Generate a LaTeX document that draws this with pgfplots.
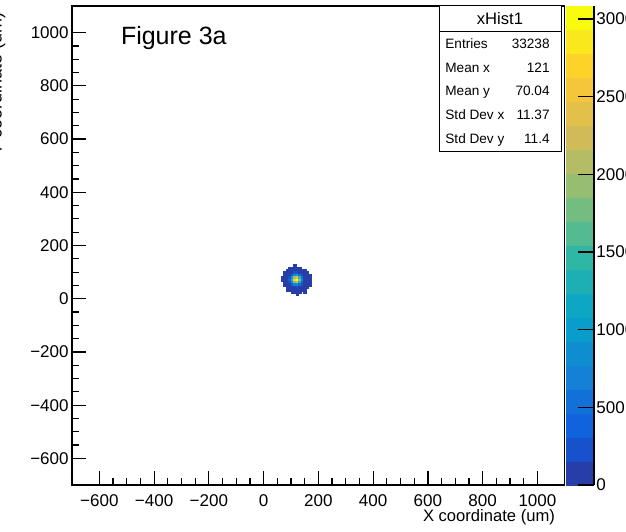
\documentclass[border=0pt]{standalone}
\usepackage{pgfplots}
\usepackage{pgfplotstable}
\pgfplotsset{compat=1.18}
\usepackage{fontspec}
\setmainfont{Liberation Sans}

% 2D histogram xHist1: bin centres (9 um bins) and non-empty bin contents
\pgfplotstableread{
x y c
114.5 123.5 1
105.5 114.5 1
114.5 114.5 1
123.5 114.5 1
132.5 114.5 1
96.5 114.5 1
87.5 105.5 1
96.5 105.5 2
105.5 105.5 10
114.5 105.5 21
123.5 105.5 24
132.5 105.5 15
141.5 105.5 5
150.5 105.5 1
78.5 96.5 1
87.5 96.5 3
96.5 96.5 21
105.5 96.5 84
114.5 96.5 180
123.5 96.5 207
132.5 96.5 127
141.5 96.5 42
150.5 96.5 7
159.5 96.5 1
78.5 87.5 1
87.5 87.5 13
96.5 87.5 96
105.5 87.5 385
114.5 87.5 827
123.5 87.5 951
132.5 87.5 585
141.5 87.5 192
150.5 87.5 34
159.5 87.5 3
168.5 87.5 1
69.5 78.5 1
78.5 78.5 2
87.5 78.5 31
96.5 78.5 235
105.5 78.5 946
114.5 78.5 2033
123.5 78.5 2338
132.5 78.5 1437
141.5 78.5 472
150.5 78.5 83
159.5 78.5 8
168.5 78.5 1
69.5 69.5 1
78.5 69.5 3
87.5 69.5 41
96.5 69.5 310
105.5 69.5 1248
114.5 69.5 2683
123.5 69.5 3084
132.5 69.5 1896
141.5 69.5 622
150.5 69.5 109
159.5 69.5 10
168.5 69.5 1
78.5 60.5 2
87.5 60.5 29
96.5 60.5 220
105.5 60.5 883
114.5 60.5 1899
123.5 60.5 2183
132.5 60.5 1342
141.5 60.5 440
150.5 60.5 77
159.5 60.5 7
168.5 60.5 1
78.5 51.5 1
87.5 51.5 11
96.5 51.5 83
105.5 51.5 335
114.5 51.5 720
123.5 51.5 827
132.5 51.5 509
141.5 51.5 167
150.5 51.5 29
159.5 51.5 3
168.5 51.5 1
87.5 42.5 2
96.5 42.5 17
105.5 42.5 68
114.5 42.5 146
123.5 42.5 168
132.5 42.5 103
141.5 42.5 34
150.5 42.5 6
159.5 42.5 1
87.5 33.5 1
96.5 33.5 2
105.5 33.5 7
114.5 33.5 16
123.5 33.5 18
132.5 33.5 11
141.5 33.5 4
150.5 33.5 1
105.5 24.5 1
114.5 24.5 1
123.5 24.5 1
132.5 24.5 1
150.5 24.5 1
123.5 15.5 1
}\histdata

\pgfplotsset{
  rootfont/.style={font=\fontsize{8.5}{10}\selectfont},
}

\begin{document}
\begin{tikzpicture}
% page frame; everything outside it is cut away
\useasboundingbox (-36pt,-23pt) rectangle (277pt,242.5pt);
\clip (-36pt,-23pt) rectangle (277pt,242.5pt);
\begin{axis}[
  name=main,
  at={(0pt,0pt)}, anchor=south west,
  scale only axis,
  width=246.4pt, height=239.5pt,
  xmin=-700, xmax=1100, ymin=-700, ymax=1100,
  xtick={-600,-400,...,1000},
  ytick={-600,-400,...,1000},
  xticklabels={−600,−400,−200,0,200,400,600,800,1000},
  yticklabels={−600,−400,−200,0,200,400,600,800,1000},
  minor tick num=3,
  tick pos=left,
  tick align=inside,
  major tick length=7pt,
  minor tick length=3.5pt,
  tick style={black, line width=0.6pt},
  axis line style={line width=0.6pt},
  xticklabel style={rootfont, yshift=-1.2pt},
  yticklabel style={rootfont, inner sep=1.5pt},
  colormap={rootbird}{
    rgb=(0.152,0.240,0.657)
    rgb=(0.091,0.319,0.796)
    rgb=(0.063,0.388,0.863)
    rgb=(0.070,0.443,0.851)
    rgb=(0.078,0.502,0.839)
    rgb=(0.056,0.558,0.820)
    rgb=(0.034,0.615,0.801)
    rgb=(0.052,0.656,0.764)
    rgb=(0.116,0.687,0.704)
    rgb=(0.180,0.718,0.643)
    rgb=(0.324,0.731,0.570)
    rgb=(0.456,0.743,0.504)
    rgb=(0.587,0.746,0.443)
    rgb=(0.705,0.739,0.396)
    rgb=(0.821,0.734,0.348)
    rgb=(0.888,0.754,0.290)
    rgb=(0.961,0.776,0.227)
    rgb=(0.992,0.828,0.166)
    rgb=(0.984,0.909,0.108)
    rgb=(0.976,0.983,0.054)
  },
  colormap access=piecewise constant,
  point meta min=0, point meta max=3084,
  colorbar right,
  colorbar style={
    at={(parent axis.north east)}, anchor=north west, xshift=-7.9pt,
    width=14pt,
    ytick={0,500,...,3000},
    yticklabels={0,500,1000,1500,2000,2500,3000},
    ytick pos=right,
    yticklabel pos=right,
    tick align=inside,
    major tick length=8pt,
    minor tick num=0,
    tick style={black, line width=0.6pt},
    axis line style={draw=none},
    yticklabel style={rootfont, inner sep=1pt},
    extra description/.code={\draw[line width=0.6pt] (1,0) -- (1,1);},
  },
]
\addplot[
  scatter, only marks, mark=square*, mark size=0.64pt,
  point meta=explicit,
  scatter/use mapped color={draw=mapped color, fill=mapped color},
] table[x=x, y=y, meta=c] {\histdata};
\end{axis}

% axis titles
\node[rotate=90, anchor=base east, font=\fontsize{9}{10}\selectfont] at (-35.2pt,240pt) {Y coordinate (um)};
\node[anchor=base east, font=\fontsize{8.3}{10}\selectfont] at (245pt,-18pt) {X coordinate (um)};

% panel tag
\node[anchor=base west, inner sep=0pt, font=\fontsize{12.5}{14}\selectfont] at (24.3pt,220pt) {Figure 3a};

% statistics box
\draw[line width=0.5pt, fill=white] (183.5pt,166.5pt) rectangle (244.5pt,239.5pt);
\draw[line width=0.5pt] (183.5pt,226.5pt) -- (244.5pt,226.5pt);
\node[font=\fontsize{8.3}{9}\selectfont] at (214pt,233pt) {xHist1};
\begin{scope}[every node/.style={inner sep=0pt, font=\fontsize{6.8}{8}\selectfont}]
  \node[anchor=base west] at (186.5pt,218pt) {Entries};
  \node[anchor=base east] at (239pt,218pt) {33238};
  \node[anchor=base west] at (186.5pt,206.25pt) {Mean x};
  \node[anchor=base east] at (239pt,206.25pt) {121};
  \node[anchor=base west] at (186.5pt,194.5pt) {Mean y};
  \node[anchor=base east] at (239pt,194.5pt) {70.04};
  \node[anchor=base west] at (186.5pt,182.75pt) {Std Dev x};
  \node[anchor=base east] at (239pt,182.75pt) {11.37};
  \node[anchor=base west] at (186.5pt,171pt) {Std Dev y};
  \node[anchor=base east] at (239pt,171pt) {11.4};
\end{scope}
\end{tikzpicture}
\end{document}
